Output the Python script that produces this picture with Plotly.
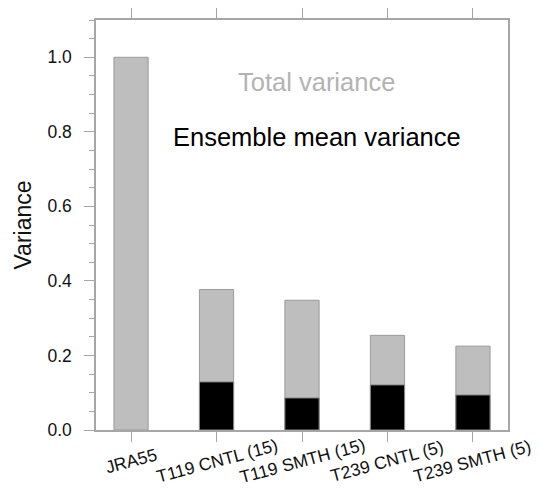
import plotly.graph_objects as go

categories = ["JRA55", "T119 CNTL (15)", "T119 SMTH (15)", "T239 CNTL (5)", "T239 SMTH (5)"]
total_variance = [1.0, 0.377, 0.348, 0.254, 0.225]
ensemble_mean_variance = [None, 0.129, 0.086, 0.121, 0.094]
y_ticks = [0.0, 0.2, 0.4, 0.6, 0.8, 1.0]
y_tick_labels = ["0.0", "0.2", "0.4", "0.6", "0.8", "1.0"]

FONT = "Liberation Sans, Arial, sans-serif"
AX = "#a6a6a6"

fig = go.Figure()
fig.add_trace(go.Bar(x=categories, y=total_variance, width=0.4,
                     marker=dict(color="#bebebe", line=dict(color="#9a9a9a", width=1)),
                     showlegend=False))
fig.add_trace(go.Bar(x=categories, y=ensemble_mean_variance, width=0.4,
                     marker=dict(color="#000000", line=dict(color="#8a8a8a", width=1)),
                     showlegend=False))

# rotated, centred category labels
for c in categories:
    fig.add_annotation(x=c, xref="x", y=-0.076, yref="paper", text=c,
                       textangle=-15, showarrow=False, xanchor="center", yanchor="middle",
                       xshift=0, font=dict(family=FONT, size=17.5, color="#111111"))

fig.add_annotation(x=0.536, xref="paper", y=0.848, yref="paper", text="Total variance",
                   showarrow=False, xanchor="center", yanchor="middle",
                   font=dict(family=FONT, size=25.5, color="#b3b3b3"))
fig.add_annotation(x=0.536, xref="paper", y=0.714, yref="paper", text="Ensemble mean variance",
                   showarrow=False, xanchor="center", yanchor="middle",
                   font=dict(family=FONT, size=25.5, color="#000000"))

fig.update_layout(
    barmode="overlay",
    width=531, height=483,
    margin=dict(l=88, r=31, t=12, b=61, autoexpand=False),
    paper_bgcolor="white", plot_bgcolor="white",
    font=dict(family=FONT, color="#111111"),
    xaxis=dict(type="category", range=[-0.41, 4.41], showticklabels=False,
               ticks="outside", ticklen=10, tickcolor=AX, tickwidth=1.2,
               showline=True, linecolor=AX, linewidth=1.5, mirror="ticks",
               showgrid=False, zeroline=False),
    yaxis=dict(range=[0, 1.1], tickvals=y_ticks, ticktext=y_tick_labels,
               ticks="outside", ticklen=10, tickcolor=AX, tickwidth=1.2,
               ticklabelstandoff=9,
               tickfont=dict(family=FONT, size=17.5, color="#111111"),
               minor=dict(dtick=0.05, ticks="outside", ticklen=5, tickcolor=AX, tickwidth=1),
               showline=True, linecolor=AX, linewidth=1.5, mirror=True,
               showgrid=False, zeroline=False,
               title=dict(text="Variance", font=dict(family=FONT, size=23, color="#111111"), standoff=9)),
)

fig.write_html("out.html")
